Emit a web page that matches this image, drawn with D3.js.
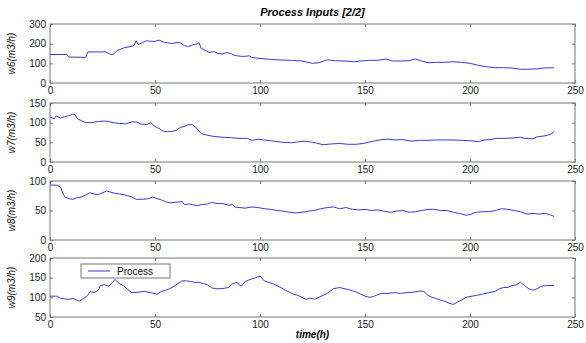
<!DOCTYPE html>
<html>
<head>
<meta charset="utf-8">
<script src="https://cdn.jsdelivr.net/npm/d3@7"></script>
<style>
  html, body { margin: 0; padding: 0; background: #fff; }
  svg { display: block; font-family: "Liberation Sans", Arial, sans-serif; }
</style>
</head>
<body>
<div id="chart"></div>
<script>
// values, [time(h), flow]
const w6Data = [[0,145],[8,145],[9,132],[17,130],[18,158],[25,158],[26,160],[29,145],[30,145],[32,165],[35,178],[38,185],[40,190],[41,215],[42,195],[44,205],[46,215],[48,212],[50,212],[52,218],[54,208],[56,205],[58,200],[60,205],[62,205],[64,190],[66,185],[68,195],[70,198],[71,205],[72,175],[74,165],[76,155],[78,160],[80,150],[82,148],[84,155],[86,150],[88,140],[90,137],[92,135],[95,138],[96,130],[100,125],[105,120],[110,117],[115,115],[120,112],[125,100],[128,103],[132,118],[136,113],[140,112],[145,108],[148,112],[152,115],[156,115],[160,122],[163,112],[167,112],[171,113],[174,122],[176,115],[180,103],[184,105],[188,105],[192,108],[196,105],[200,100],[204,90],[208,82],[212,78],[216,78],[220,76],[224,70],[228,70],[232,72],[236,77],[240,77]];
const w7Data = [[0,114],[2,110],[3,117],[5,112],[7,115],[9,118],[11,122],[12,120],[13,110],[15,105],[17,100],[20,100],[23,103],[26,104],[28,103],[30,100],[33,98],[36,97],[39,102],[41,102],[43,97],[46,95],[48,100],[50,90],[52,85],[54,78],[56,77],[58,78],[60,80],[62,88],[64,90],[66,95],[68,95],[70,85],[72,72],[75,68],[78,65],[82,63],[86,62],[90,60],[94,60],[96,55],[99,58],[102,56],[105,54],[108,52],[111,50],[115,49],[118,51],[121,53],[124,51],[127,48],[130,44],[134,46],[138,47],[142,45],[146,45],[150,48],[154,53],[158,57],[161,58],[164,56],[168,57],[172,53],[176,55],[180,55],[184,56],[188,56],[192,56],[196,55],[200,54],[204,52],[207,56],[210,57],[212,60],[216,60],[220,61],[224,63],[226,60],[230,59],[232,64],[235,66],[237,68],[239,72],[240,78]];
const w8Data = [[0,93],[3,93],[5,90],[6,80],[7,73],[9,70],[11,69],[13,72],[15,73],[17,76],[19,80],[21,78],[23,77],[25,80],[27,83],[29,81],[31,79],[33,78],[35,77],[37,75],[39,73],[41,69],[44,69],[47,70],[49,73],[51,70],[53,68],[55,65],[57,63],[60,64],[63,65],[64,60],[66,61],[68,60],[70,58],[72,60],[75,61],[77,64],[79,62],[82,62],[85,59],[87,60],[88,56],[90,55],[93,54],[96,56],[99,55],[102,53],[105,52],[108,50],[111,49],[114,47],[117,46],[120,47],[123,49],[126,50],[129,53],[132,55],[135,56],[138,53],[141,55],[144,52],[147,51],[150,52],[153,50],[156,51],[159,49],[162,47],[165,49],[168,50],[171,47],[174,48],[177,50],[180,52],[183,52],[186,50],[189,50],[192,47],[195,45],[198,42],[200,43],[203,47],[206,48],[209,48],[212,50],[215,53],[218,52],[221,50],[224,48],[227,44],[230,45],[233,44],[236,45],[238,43],[240,40]];
const w9Data = [[0,103],[3,103],[5,98],[7,96],[9,95],[11,97],[13,92],[14,90],[16,97],[18,105],[19,115],[21,112],[23,118],[24,130],[26,132],[28,128],[30,140],[31,145],[33,135],[35,130],[37,120],[39,112],[42,113],[45,115],[48,112],[51,108],[53,115],[55,118],[57,122],[59,128],[61,135],[63,142],[65,142],[67,140],[69,138],[71,138],[73,135],[75,132],[77,124],[79,122],[81,122],[83,123],[85,125],[87,135],[89,138],[91,128],[93,140],[95,145],[97,148],[99,152],[100,154],[102,142],[104,138],[106,135],[108,130],[110,125],[112,118],[114,113],[116,108],[118,105],[120,100],[122,95],[124,98],[126,95],[128,100],[130,105],[132,110],[135,122],[138,125],[140,122],[142,120],[144,117],[146,113],[148,108],[150,103],[152,100],[154,102],[156,107],[158,110],[161,110],[164,112],[167,110],[170,112],[173,113],[176,116],[178,115],[180,105],[182,100],[184,97],[186,93],[188,90],[190,85],[192,82],[194,88],[196,93],[198,100],[200,102],[203,105],[206,108],[209,112],[212,115],[214,122],[216,125],[218,125],[220,130],[222,132],[224,138],[226,130],[228,122],[230,118],[232,122],[234,128],[236,130],[240,130]];

const seriesList = [w6Data, w7Data, w8Data, w9Data];
const yLabels = ["w6(m3/h)", "w7(m3/h)", "w8(m3/h)", "w9(m3/h)"];
const yDomains = [[0, 300], [0, 150], [0, 100], [50, 200]];
const yTicks = [[0, 100, 200, 300], [0, 50, 100, 150], [0, 50, 100], [50, 100, 150, 200]];
const xTicks = [0, 50, 100, 150, 200, 250];
const titleText = "Process Inputs [2/2]";
const xLabelText = "time(h)";
const legendText = "Process";

const width = 586, height = 343;
const left = 50, right = 575;
const panelTops = [24, 103, 181, 258];
const panelH = 59;
const lineColor = "#3a3ad6";
const boxColor = "#777";

const svg = d3.select("#chart").append("svg")
    .attr("width", width)
    .attr("height", height);

const x = d3.scaleLinear().domain([0, 250]).range([left, right]);

seriesList.forEach(function(data, i) {
    const top = panelTops[i];
    const y = d3.scaleLinear().domain(yDomains[i]).range([top + panelH, top]);
    const g = svg.append("g");

    // bottom axis with labels, ticks pointing in
    const bottom = g.append("g")
        .attr("transform", "translate(0," + (top + panelH) + ")")
        .call(d3.axisBottom(x).tickValues(xTicks).tickSizeInner(-3).tickSizeOuter(0).tickPadding(4));
    const topAx = g.append("g")
        .attr("transform", "translate(0," + top + ")")
        .call(d3.axisTop(x).tickValues(xTicks).tickSizeInner(-3).tickSizeOuter(0).tickFormat(""));
    const leftAx = g.append("g")
        .attr("transform", "translate(" + left + ",0)")
        .call(d3.axisLeft(y).tickValues(yTicks[i]).tickSizeInner(-3).tickSizeOuter(0).tickPadding(4));
    const rightAx = g.append("g")
        .attr("transform", "translate(" + right + ",0)")
        .call(d3.axisRight(y).tickValues(yTicks[i]).tickSizeInner(-3).tickSizeOuter(0).tickFormat(""));

    [bottom, topAx, leftAx, rightAx].forEach(function(ax) {
        ax.select(".domain").remove();
        ax.selectAll(".tick line").attr("stroke", boxColor);
        ax.selectAll("text")
            .attr("fill", "#222")
            .style("font-size", "10px");
    });

    g.append("rect")
        .attr("x", left)
        .attr("y", top)
        .attr("width", right - left)
        .attr("height", panelH)
        .attr("fill", "none")
        .attr("stroke", boxColor)
        .attr("stroke-width", 1);

    const line = d3.line()
        .x(function(d) { return x(d[0]); })
        .y(function(d) { return y(d[1]); });

    g.append("path")
        .datum(data)
        .attr("d", line)
        .attr("fill", "none")
        .attr("stroke", lineColor)
        .attr("stroke-width", 1);

    g.append("text")
        .attr("transform", "translate(15," + (top + panelH / 2) + ") rotate(-90)")
        .attr("text-anchor", "middle")
        .style("font-size", "10px")
        .style("font-style", "italic")
        .attr("fill", "#111")
        .text(yLabels[i]);
});

svg.append("text")
    .attr("x", (left + right) / 2)
    .attr("y", 16)
    .attr("text-anchor", "middle")
    .style("font-size", "11px")
    .style("font-weight", "bold")
    .style("font-style", "italic")
    .text(titleText);

svg.append("text")
    .attr("x", (left + right) / 2)
    .attr("y", 338)
    .attr("text-anchor", "middle")
    .style("font-size", "10px")
    .style("font-weight", "bold")
    .style("font-style", "italic")
    .text(xLabelText);

// legend box in the last panel
const leg = svg.append("g").attr("transform", "translate(81,264)");
leg.append("rect")
    .attr("width", 89)
    .attr("height", 14)
    .attr("fill", "#fff")
    .attr("stroke", boxColor);
leg.append("line")
    .attr("x1", 7).attr("x2", 29)
    .attr("y1", 7).attr("y2", 7)
    .attr("stroke", lineColor);
leg.append("text")
    .attr("x", 36)
    .attr("y", 11)
    .style("font-size", "10px")
    .attr("fill", "#111")
    .text(legendText);
</script>
</body>
</html>
